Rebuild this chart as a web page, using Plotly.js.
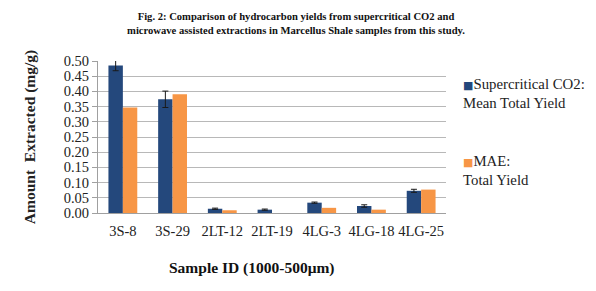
<!DOCTYPE html>
<html><head><meta charset="utf-8">
<script src="https://cdn.plot.ly/plotly-3.0.1.min.js"></script>
<style>body{margin:0;background:#fff}#chart{width:596px;height:291px}</style>
</head><body><div id="chart"></div>
<script>
const samples = ["3S-8","3S-29","2LT-12","2LT-19","4LG-3","4LG-18","4LG-25"];
const co2Yield = [0.485,0.374,0.014,0.011,0.034,0.023,0.073];
const co2Err   = [0.017,0.027,0.002,0.002,0.002,0.004,0.005];
const maeYield = [0.347,0.391,0.009,0,0.017,0.011,0.077];
const yTicks = [0,0.05,0.10,0.15,0.20,0.25,0.30,0.35,0.40,0.45,0.50];
const seriesNames = ["Supercritical CO2:<br>Mean Total Yield","MAE:<br>Total Yield"];
const seriesColors = ["#24487c","#f79646"];

const serif = "Times New Roman, Liberation Serif, DejaVu Serif, serif";
const traces = [
  {type:'bar', x:samples, y:co2Yield, name:seriesNames[0], showlegend:false,
   marker:{color:seriesColors[0]},
   error_y:{type:'data', array:co2Err, visible:true, color:'#1a1a1a', thickness:1, width:3}},
  {type:'bar', x:samples, y:maeYield, name:seriesNames[1], showlegend:false,
   marker:{color:seriesColors[1]}}
];
const legendTops = [0.914, 0.408];
const legendAnn = seriesNames.map((n,i)=>({
  text:'<span style="color:'+seriesColors[i]+';font-family:DejaVu Sans;font-size:11px">■</span>'+n,
  xref:'paper', yref:'paper', x:(461-98)/348, y:legendTops[i], xanchor:'left', yanchor:'top',
  align:'left', showarrow:false, font:{size:14.8, family:serif, color:'#222'}
}));
const layout = {
  width:596, height:291,
  margin:{l:98, r:150, t:61, b:78},
  paper_bgcolor:'#fff', plot_bgcolor:'#fff',
  barmode:'group', bargap:0.42, bargroupgap:0,
  font:{family:serif, color:'#222'},
  title:{text:'<b>Fig. 2: Comparison of hydrocarbon yields from supercritical CO2 and<br>microwave assisted extractions in Marcellus Shale samples from this study.</b>',
    font:{size:10.6, family:serif, color:'#111'}, x:296/596, xanchor:'center', xref:'container',
    y:1-20/291, yref:'container', yanchor:'top'},
  xaxis:{tickfont:{size:14.5, family:serif, color:'#222'}, showline:true, linecolor:'#a0a0a0',
    ticks:'outside', ticklen:5, tickcolor:'rgba(0,0,0,0)', showgrid:false},
  yaxis:{range:[0,0.5], tickvals:yTicks, tickformat:'.2f', tickfont:{size:14.5, family:serif, color:'#222'},
    showline:true, linecolor:'#a0a0a0', ticks:'outside', ticklen:5, tickcolor:'#a0a0a0',
    gridcolor:'#b8b8b8', gridwidth:1, zeroline:false,
    title:{text:'<b>Amount  Extracted (mg/g)</b>', font:{size:15.5, family:serif, color:'#222'}, standoff:24}},
  showlegend:false,
  annotations:[{text:'<b>Sample ID (1000-500μm)</b>', xref:'paper', yref:'paper',
    x:(252-98)/348, y:0, yshift:-55, xanchor:'center', yanchor:'middle', showarrow:false,
    font:{size:15.5, family:serif, color:'#111'}}].concat(legendAnn)
};
Plotly.newPlot('chart', traces, layout, {displayModeBar:false, staticPlot:true});
</script></body></html>
